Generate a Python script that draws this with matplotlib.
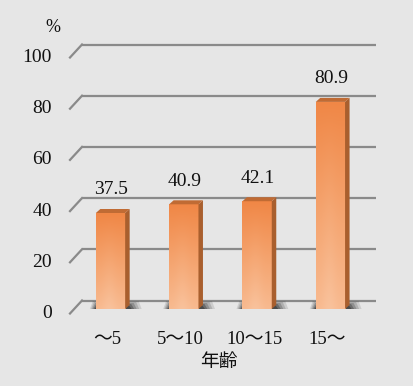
import numpy as np
import matplotlib
matplotlib.use("Agg")
import matplotlib.pyplot as plt
from matplotlib.patches import Polygon
from matplotlib.transforms import ScaledTranslation, blended_transform_factory
from matplotlib.colors import LinearSegmentedColormap

categories = ["〜5", "5〜10", "10〜15", "15〜"]
values = [37.5, 40.9, 42.1, 80.9]
yticks = [0, 20, 40, 60, 80, 100]
xlabel = "年齢"
ylabel = "%"

FONT = ["Liberation Serif", "Noto Sans CJK JP", "DejaVu Sans"]
BG = "#e6e6e6"
TXT = "#111111"

W, H, DPI = 413, 386, 100
fig = plt.figure(figsize=(W / DPI, H / DPI), dpi=DPI, facecolor=BG)
ax = fig.add_axes([70 / W, 77 / H, 306 / W, 256 / H])
ax.set_facecolor("none")
ax.set_xlim(-0.5525, 3.622)
ax.set_ylim(0, 100)
for s in ax.spines.values():
    s.set_visible(False)
ax.set_xticks([])
ax.set_yticks([])


def px(dx, dy):
    return ScaledTranslation(dx / DPI, dy / DPI, fig.dpi_scale_trans)


bl = blended_transform_factory(ax.transAxes, ax.transData)
axw = 306.0
grid_c = "#8a8a8a"
for v in yticks:
    ax.plot([12 / axw, 1.0], [v, v], transform=bl + px(0, 8.5), color=grid_c,
            lw=1.6, clip_on=False, zorder=1, solid_capstyle="butt")
    p0 = (bl + px(0, -4.5)).transform((0, v))
    p1 = (bl + px(12, 8.5)).transform((0, v))
    fig.add_artist(plt.Line2D([p0[0] / W, p1[0] / W], [p0[1] / H, p1[1] / H],
                              transform=fig.transFigure, color=grid_c, lw=1.6))
    ax.text(0, v, str(v), transform=bl + px(-18, -4.5), ha="right", va="center",
            fontsize=14, family=FONT, color=TXT)
ax.text(0, 100, ylabel, transform=bl + px(-10, 25), ha="right", va="center",
        fontsize=13, family=FONT, color=TXT)

cmap = LinearSegmentedColormap.from_list("o", ["#f08746", "#f5a672", "#f9c29c"])
bw = 0.40
ddx, ddy = 4.5, 4.0
for i, v in enumerate(values):
    x0, x1 = i - bw / 2, i + bw / 2
    b0 = ax.transData.transform((x0, 0))
    b1 = ax.transData.transform((x1, 0))
    # soft shadow on the floor
    for k, a in enumerate([0.12, 0.16, 0.22, 0.3, 0.4]):
        ext = 12 - 2.5 * k
        lft = 6 - 1.2 * k
        shadow = Polygon(
            [b0 + [-lft, 0], b1 + [ddx + ext, 0],
             b1 + [ddx + ext - 3, 8 - k], b0 + [-lft + 3, 8 - k]],
            closed=True, transform=None, facecolor="#1a1a1a", alpha=a,
            edgecolor="none", zorder=2)
        ax.add_patch(shadow)
    # gradient front face
    ny, nx = 120, 40
    yy = np.linspace(0, 1, ny)[:, None]
    xx = np.linspace(0, 1, nx)[None, :]
    grad = (1 - yy) * 0.85 + 0.15 * np.exp(-((xx - 0.45) ** 2) / 0.06) * (1 - yy)
    grad = np.clip(grad, 0, 1)
    im = ax.imshow(grad, extent=(x0, x1, 0, v), origin="lower", cmap=cmap,
                   vmin=0, vmax=1, aspect="auto", zorder=3, interpolation="bilinear")
    rect = ax.bar(i, v, width=bw, color="none", edgecolor="none", zorder=3)[0]
    im.set_clip_path(rect)
    # side face
    p_b = ax.transData.transform((x1, 0))
    p_t = ax.transData.transform((x1, v))
    side = Polygon([p_b, p_t, p_t + [ddx, ddy], p_b + [ddx, ddy]], closed=True,
                   transform=None, facecolor="#a95f2e", edgecolor="none", zorder=4)
    ax.add_patch(side)
    # top face
    q0 = ax.transData.transform((x0, v))
    q1 = ax.transData.transform((x1, v))
    top = Polygon([q0, q1, q1 + [ddx, ddy], q0 + [ddx, ddy]], closed=True,
                  transform=None, facecolor="#c06b34", edgecolor="none", zorder=4)
    ax.add_patch(top)
    ax.text(i, v, f"{v:.1f}", transform=ax.transData + px(1, 23), ha="center",
            va="center", fontsize=14, family=FONT, color=TXT)
    ax.text(i, 0, categories[i], transform=ax.transData + px(-3, -31), ha="center",
            va="center", fontsize=13.5, family=FONT, color=TXT)

ax.text(1.5, 0, xlabel, transform=ax.transData + px(-2, -54), ha="center",
        va="center", fontsize=13.5, family=FONT, color=TXT)

fig.savefig("out.png", dpi=DPI, facecolor=BG)
